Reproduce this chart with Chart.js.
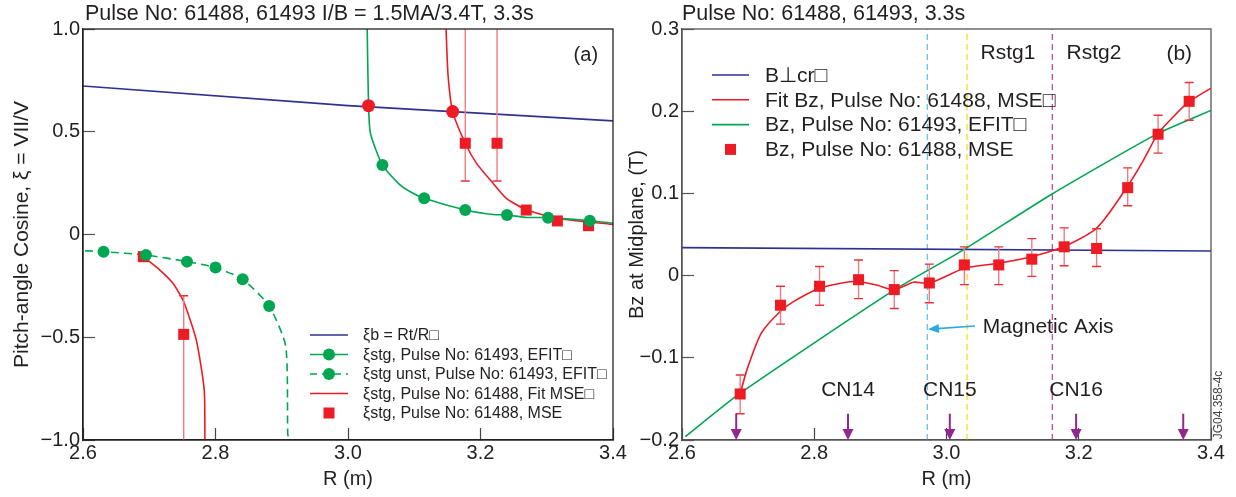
<!DOCTYPE html>
<html>
<head>
<meta charset="utf-8">
<script src="https://cdn.jsdelivr.net/npm/chart.js@4.4.1/dist/chart.umd.min.js"></script>
<style>
  html, body { margin: 0; padding: 0; background: #fff; }
  #wrap { position: relative; width: 1236px; height: 497px; overflow: hidden; }
  canvas { position: absolute; top: 0; }
  #ca { left: 0; }
  #cb { left: 620px; }
</style>
</head>
<body>
<div id="wrap">
  <canvas id="ca" width="640" height="497"></canvas>
  <canvas id="cb" width="616" height="497"></canvas>
</div>
<script>
'use strict';

var FONT = '"Liberation Sans", Arial, Helvetica, sans-serif';
var INK = '#231f20';
var BLUE = '#2e3192', RED = '#ed1c24', GREEN = '#00a651';
var ERR_LINE = '#f27b7f', ERR_CAP = '#e8303a';

// shared x axis
var xTicks = [2.6, 2.8, 3.0, 3.2, 3.4];
var xTickLabels = ['2.6', '2.8', '3.0', '3.2', '3.4'];

// ---- panel (a) : pitch-angle cosine
var yTicksA = [-1, -0.5, 0, 0.5, 1];
var yTickLabelsA = ['\u22121.0', '\u22120.5', '0', '0.5', '1.0'];

var xibR = [2.6, 3.0, 3.4];
var xibV = [0.723, 0.627, 0.553];

var stgEfitR = [3.029, 3.031, 3.034, 3.052, 3.076, 3.094, 3.115, 3.177, 3.219, 3.240, 3.270, 3.302, 3.365, 3.400];
var stgEfitV = [1.0, 0.627, 0.49, 0.338, 0.249, 0.208, 0.176, 0.119, 0.097, 0.095, 0.083, 0.082, 0.067, 0.055];
var stgEfitMarkR = [3.052, 3.115, 3.177, 3.240, 3.302, 3.365];
var stgEfitMarkV = [0.338, 0.176, 0.119, 0.095, 0.082, 0.067];

var unstEfitR = [2.603, 2.631, 2.695, 2.757, 2.800, 2.841, 2.881, 2.906, 2.909, 2.910];
var unstEfitV = [-0.079, -0.084, -0.100, -0.132, -0.161, -0.218, -0.348, -0.543, -0.967, -0.99];
var unstMarkR = [2.631, 2.695, 2.757, 2.800, 2.841, 2.881];
var unstMarkV = [-0.084, -0.100, -0.132, -0.161, -0.218, -0.348];

var fitLowR = [2.691, 2.716, 2.736, 2.752, 2.771, 2.783, 2.784];
var fitLowV = [-0.108, -0.173, -0.238, -0.327, -0.513, -0.757, -1.0];
var fitUpR = [3.148, 3.151, 3.158, 3.177, 3.194, 3.219, 3.239, 3.265, 3.295, 3.325, 3.393, 3.400];
var fitUpV = [1.0, 0.776, 0.598, 0.444, 0.346, 0.249, 0.176, 0.127, 0.095, 0.074, 0.051, 0.049];

var stgPointR = [3.031, 3.158];
var stgPointV = [0.627, 0.598];

var mseR = [2.691, 2.752, 3.177, 3.225, 3.269, 3.316, 3.363];
var mseV = [-0.108, -0.486, 0.444, 0.444, 0.119, 0.066, 0.043];
var mseLo = [null, -1.2, 0.26, 0.26, null, null, null];
var mseHi = [null, -0.298, 1.2, 1.2, null, null, null];

var legendA = [
  '\u03BEb = Rt/R\u25A1',
  '\u03BEstg, Pulse No: 61493, EFIT\u25A1',
  '\u03BEstg unst, Pulse No: 61493, EFIT\u25A1',
  '\u03BEstg, Pulse No: 61488, Fit MSE\u25A1',
  '\u03BEstg, Pulse No: 61488, MSE'
];

// ---- panel (b) : Bz at midplane
var yTicksB = [-0.2, -0.1, 0, 0.1, 0.2, 0.3];
var yTickLabelsB = ['\u22120.2', '\u22120.1', '0', '0.1', '0.2', '0.3'];

var bcrR = [2.6, 3.4];
var bcrV = [0.034, 0.030];

var bzEfitR = [2.605, 2.688, 2.920, 3.025, 3.159, 3.320, 3.400];
var bzEfitV = [-0.196, -0.143, -0.018, 0.031, 0.099, 0.173, 0.201];

var bzFitR = [2.686, 2.698, 2.720, 2.748, 2.768, 2.808, 2.844, 2.867, 2.894, 2.921, 2.950, 2.974,
  3.027, 3.079, 3.129, 3.159, 3.178, 3.222, 3.240, 3.274, 3.298, 3.320, 3.348, 3.367, 3.400];
var bzFitV = [-0.150, -0.115, -0.070, -0.044, -0.032, -0.0155, -0.0086, -0.0074, -0.0114, -0.0175, -0.008, -0.0094,
  0.009, 0.015, 0.023, 0.030, 0.035, 0.0543, 0.0697, 0.109, 0.1406, 0.173, 0.1974, 0.2116, 0.228];

var bzMseR = [2.688, 2.749, 2.808, 2.867, 2.921, 2.974, 3.027, 3.079, 3.129, 3.178, 3.227, 3.274, 3.320, 3.367];
var bzMseV = [-0.144, -0.036, -0.013, -0.005, -0.017, -0.009, 0.013, 0.013, 0.020, 0.035, 0.033, 0.107, 0.172, 0.212];
var bzMseLo = [-0.168, -0.059, -0.036, -0.028, -0.040, -0.033, -0.011, -0.011, -0.001, 0.012, 0.011, 0.085, 0.149, 0.189];
var bzMseHi = [-0.121, -0.013, 0.011, 0.019, 0.006, 0.014, 0.035, 0.035, 0.045, 0.058, 0.057, 0.131, 0.195, 0.235];

var axisR = 2.971, rstg1R = 3.031, rstg2R = 3.160;
var cnR = [2.682, 2.851, 3.005, 3.196, 3.358];
var cnLabels = ['', 'CN14', 'CN15', 'CN16', ''];

var legendB = [
  'B\u22A5cr\u25A1',
  'Fit Bz, Pulse No: 61488, MSE\u25A1',
  'Bz, Pulse No: 61493, EFIT\u25A1',
  'Bz, Pulse No: 61488, MSE'
];

function pts(xs, ys) {
  return xs.map(function (x, i) { return {x: x, y: ys[i]}; });
}

function lineSet(xs, ys, color, extra) {
  var d = {data: pts(xs, ys), showLine: true, borderColor: color, borderWidth: 1.6,
    pointRadius: 0, tension: 0.2, order: 5};
  return Object.assign(d, extra || {});
}

function markSet(xs, ys, color, extra) {
  var d = {data: pts(xs, ys), showLine: false, backgroundColor: color, borderColor: color,
    pointBackgroundColor: color, pointBorderColor: color, pointBorderWidth: 0, pointRadius: 6, order: 0};
  return Object.assign(d, extra || {});
}

function arrowHead(ctx, x, y, ang, len, w) {
  var c = Math.cos(ang), s = Math.sin(ang);
  ctx.beginPath();
  ctx.moveTo(x, y);
  ctx.lineTo(x - len * c + w / 2 * s, y - len * s - w / 2 * c);
  ctx.lineTo(x - len * c - w / 2 * s, y - len * s + w / 2 * c);
  ctx.closePath();
  ctx.fill();
}

// error bars, titles, labels, arrows, legend
function decoPlugin(spec) {
  return {
    id: 'deco',
    beforeDatasetDraw: function (chart, args) {
      var ds = chart.data.datasets[args.index];
      if (!ds.errLo) return;
      var ctx = chart.ctx, a = chart.chartArea, xs = chart.scales.x, ys = chart.scales.y;
      ctx.save();
      ctx.beginPath();
      ctx.rect(a.left, a.top, a.right - a.left, a.bottom - a.top);
      ctx.clip();
      ds.data.forEach(function (p, i) {
        if (ds.errLo[i] == null) return;
        var px = xs.getPixelForValue(p.x), lo = ys.getPixelForValue(ds.errLo[i]), hi = ys.getPixelForValue(ds.errHi[i]);
        ctx.strokeStyle = ERR_LINE;
        ctx.lineWidth = 1.4;
        ctx.beginPath(); ctx.moveTo(px, lo); ctx.lineTo(px, hi); ctx.stroke();
        ctx.strokeStyle = ERR_CAP;
        ctx.beginPath();
        ctx.moveTo(px - 4.5, lo); ctx.lineTo(px + 4.5, lo);
        ctx.moveTo(px - 4.5, hi); ctx.lineTo(px + 4.5, hi);
        ctx.stroke();
      });
      ctx.restore();
    },
    afterDraw: function (chart) {
      var ctx = chart.ctx, a = chart.chartArea, xs = chart.scales.x, ys = chart.scales.y;
      ctx.save();
      ctx.strokeStyle = spec.frame;
      ctx.lineWidth = 1.3;
      ctx.strokeRect(a.left, a.top, a.right - a.left, a.bottom - a.top);

      ctx.fillStyle = INK;
      ctx.textBaseline = 'middle';
      ctx.textAlign = 'left';
      ctx.font = '21.5px ' + FONT;
      ctx.fillText(spec.title, spec.titleX - spec.ox, 14);

      (spec.arrows || []).forEach(function (ar) {
        ctx.strokeStyle = ar.color;
        ctx.fillStyle = ar.color;
        ctx.lineWidth = ar.width;
        var x0 = xs.getPixelForValue(ar.x0), y0 = ys.getPixelForValue(ar.y0);
        var x1 = xs.getPixelForValue(ar.x1), y1 = ys.getPixelForValue(ar.y1);
        var ang = Math.atan2(y1 - y0, x1 - x0);
        ctx.beginPath();
        ctx.moveTo(x0, y0);
        ctx.lineTo(x1 - (ar.head - 2) * Math.cos(ang), y1 - (ar.head - 2) * Math.sin(ang));
        ctx.stroke();
        arrowHead(ctx, x1, y1, ang, ar.head, ar.headW);
      });

      ctx.fillStyle = INK;
      (spec.texts || []).forEach(function (t) {
        ctx.font = t.size + 'px ' + FONT;
        ctx.textAlign = t.align || 'center';
        ctx.fillText(t.text, xs.getPixelForValue(t.x), ys.getPixelForValue(t.y));
      });

      if (spec.stamp) {
        ctx.save();
        ctx.translate(spec.stamp.x - spec.ox, spec.stamp.y);
        ctx.rotate(-Math.PI / 2);
        ctx.font = '12px ' + FONT;
        ctx.textAlign = 'center';
        ctx.fillStyle = '#444';
        ctx.fillText(spec.stamp.text, 0, 0);
        ctx.restore();
      }

      var L = spec.legend;
      L.items.forEach(function (it, i) {
        var y = L.y0 + i * L.dy;
        var x0 = L.x0 - spec.ox, x1 = L.x1 - spec.ox, xm = (x0 + x1) / 2;
        if (it.line) {
          ctx.strokeStyle = it.color;
          ctx.lineWidth = 1.6;
          ctx.setLineDash(it.dash || []);
          ctx.beginPath(); ctx.moveTo(x0, y); ctx.lineTo(x1, y); ctx.stroke();
          ctx.setLineDash([]);
        }
        ctx.fillStyle = it.color;
        if (it.marker === 'circle') {
          ctx.beginPath(); ctx.arc(xm, y, 6, 0, Math.PI * 2); ctx.fill();
        } else if (it.marker === 'rect') {
          ctx.fillRect(xm - 5.5, y - 5.5, 11, 11);
        }
        ctx.fillStyle = INK;
        ctx.font = L.size + 'px ' + FONT;
        ctx.textAlign = 'left';
        ctx.fillText(it.label, L.tx - spec.ox, y + 1);
      });
      ctx.restore();
    }
  };
}

function makeChart(id, o) {
  var tickFont = {family: FONT, size: 20};
  return new Chart(document.getElementById(id), {
    type: 'scatter',
    data: {datasets: o.datasets},
    options: {
      responsive: false,
      animation: false,
      events: [],
      layout: {padding: o.pad},
      plugins: {legend: {display: false}, tooltip: {enabled: false}},
      scales: {
        x: {
          type: 'linear', position: 'bottom', min: 2.6, max: 3.4,
          afterBuildTicks: function (s) { s.ticks = xTicks.map(function (v) { return {value: v}; }); },
          afterFit: function (s) { s.height = 57; s.paddingLeft = 0; s.paddingRight = 0; },
          ticks: {
            callback: function (v, i) { return xTickLabels[i]; },
            font: tickFont, color: INK, padding: 13, maxRotation: 0, autoSkip: false
          },
          grid: {drawOnChartArea: false, tickLength: -12, tickColor: '#444', tickWidth: 1.2},
          border: {display: true, color: o.frame, width: 1.3},
          title: {display: true, text: 'R (m)', color: INK, font: {family: FONT, size: 20},
            padding: {top: 0, bottom: 6}}
        },
        y: {
          type: 'linear', position: 'left', min: o.ymin, max: o.ymax,
          afterBuildTicks: function (s) { s.ticks = o.yTicks.map(function (v) { return {value: v}; }); },
          afterFit: function (s) { s.width = o.yw; s.paddingTop = 0; s.paddingBottom = 0; },
          ticks: {
            callback: function (v, i) { return o.yLabels[i]; },
            font: tickFont, color: INK, padding: 15, autoSkip: false
          },
          grid: {drawOnChartArea: false, tickLength: -12, tickColor: '#555', tickWidth: 1.2},
          border: {display: true, color: o.frame, width: 1.3},
          title: {display: true, text: o.yTitle, color: INK, font: {family: FONT, size: o.yTitleSize},
            padding: {top: o.titlePad, bottom: 0}}
        }
      }
    },
    plugins: [decoPlugin(o.deco)]
  });
}

// panel (a)
makeChart('ca', {
  pad: {top: 29, right: 640 - 613, bottom: 0, left: 0},
  yw: 83, ymin: -1, ymax: 1, yTicks: yTicksA, yLabels: yTickLabelsA,
  yTitle: 'Pitch-angle Cosine, \u03BE = VII/V', yTitleSize: 21, titlePad: 10, frame: '#222',
  datasets: [
    markSet(stgEfitMarkR, stgEfitMarkV, GREEN),
    markSet(unstMarkR, unstMarkV, GREEN),
    markSet(stgPointR, stgPointV, RED, {pointRadius: 6.5, order: 1}),
    markSet(mseR, mseV, RED, {pointStyle: 'rect', pointRadius: 7.8, order: 2, errLo: mseLo, errHi: mseHi}),
    lineSet(xibR, xibV, BLUE, {tension: 0}),
    lineSet(stgEfitR, stgEfitV, GREEN),
    lineSet(unstEfitR, unstEfitV, GREEN, {borderDash: [8, 5]}),
    lineSet(fitLowR, fitLowV, RED),
    lineSet(fitUpR, fitUpV, RED)
  ],
  deco: {
    ox: 0, frame: '#222',
    title: 'Pulse No: 61488, 61493 I/B = 1.5MA/3.4T, 3.3s', titleX: 85,
    texts: [{text: '(a)', x: 3.359, y: 0.869, size: 20}],
    legend: {
      x0: 310, x1: 348, tx: 363, y0: 335, dy: 19.5, size: 16,
      items: [
        {label: legendA[0], color: BLUE, line: true},
        {label: legendA[1], color: GREEN, line: true, marker: 'circle'},
        {label: legendA[2], color: GREEN, line: true, dash: [7, 5], marker: 'circle'},
        {label: legendA[3], color: RED, line: true},
        {label: legendA[4], color: RED, marker: 'rect'}
      ]
    }
  }
});

// panel (b)
var cnArrows = cnR.map(function (r) {
  return {x0: r, y0: -0.168, x1: r, y1: -0.2, color: '#92278f', width: 2, head: 11, headW: 11};
});
var cnTexts = [];
cnR.forEach(function (r, i) {
  if (cnLabels[i]) cnTexts.push({text: cnLabels[i], x: r, y: -0.139, size: 21});
});

makeChart('cb', {
  pad: {top: 29, right: 616 - 591, bottom: 0, left: 0},
  yw: 62, ymin: -0.2, ymax: 0.3, yTicks: yTicksB, yLabels: yTickLabelsB,
  yTitle: 'Bz at Midplane, (T)', yTitleSize: 20, titlePad: 5, frame: '#555',
  datasets: [
    markSet(bzMseR, bzMseV, RED, {pointStyle: 'rect', pointRadius: 7.8, errLo: bzMseLo, errHi: bzMseHi}),
    lineSet(bzFitR, bzFitV, RED, {order: 2}),
    lineSet(bzEfitR, bzEfitV, GREEN, {order: 3}),
    lineSet(bcrR, bcrV, BLUE, {order: 3, tension: 0}),
    lineSet([axisR, axisR], [-0.2, 0.3], '#5bc0eb', {borderWidth: 1.2, borderDash: [6, 4], tension: 0, order: 6}),
    lineSet([rstg1R, rstg1R], [-0.2, 0.3], '#f5d90a', {borderWidth: 1.2, borderDash: [6, 4], tension: 0, order: 6}),
    lineSet([rstg2R, rstg2R], [-0.2, 0.3], '#c8388f', {borderWidth: 1.2, borderDash: [6, 4], tension: 0, order: 6})
  ],
  deco: {
    ox: 620, frame: '#555',
    title: 'Pulse No: 61488, 61493, 3.3s', titleX: 682,
    texts: [
      {text: 'Rstg1', x: 3.093, y: 0.271, size: 21},
      {text: 'Rstg2', x: 3.223, y: 0.271, size: 21},
      {text: '(b)', x: 3.352, y: 0.269, size: 21},
      {text: 'Magnetic Axis', x: 3.055, y: -0.0625, size: 21, align: 'left'}
    ].concat(cnTexts),
    arrows: [{x0: 3.043, y0: -0.0613, x1: 2.972, y1: -0.0653, color: '#29abe2', width: 1.6, head: 11, headW: 9}]
      .concat(cnArrows),
    stamp: {text: 'JG04.358-4c', x: 1219, y: 405},
    legend: {
      x0: 712, x1: 749, tx: 765, y0: 75, dy: 24.8, size: 21,
      items: [
        {label: legendB[0], color: BLUE, line: true},
        {label: legendB[1], color: RED, line: true},
        {label: legendB[2], color: GREEN, line: true},
        {label: legendB[3], color: RED, marker: 'rect'}
      ]
    }
  }
});
</script>
</body>
</html>
